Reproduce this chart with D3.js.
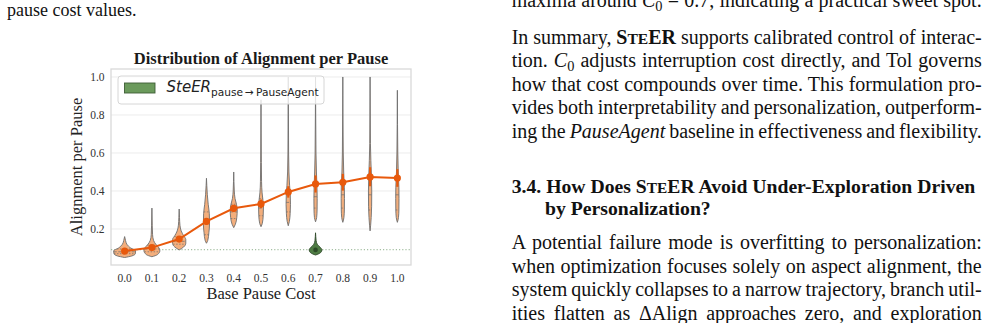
<!DOCTYPE html>
<html>
<head>
<meta charset="utf-8">
<script src="https://cdn.jsdelivr.net/npm/d3@7"></script>
<style>
  body { margin: 0; background: #fff; }
  svg { display: block; }
</style>
</head>
<body>
<div id="page"></div>
<script>
// ---- data ----
const costs = ['0.0', '0.1', '0.2', '0.3', '0.4', '0.5', '0.6', '0.7', '0.8', '0.9', '1.0'];
const meanAlign = [0.084, 0.102, 0.147, 0.240, 0.309, 0.332, 0.395, 0.437, 0.446, 0.474, 0.468];
const ciLow = [0.078, 0.095, 0.138, 0.222, 0.292, 0.310, 0.365, 0.392, 0.402, 0.425, 0.422];
const ciHigh = [0.090, 0.110, 0.157, 0.258, 0.327, 0.355, 0.425, 0.482, 0.490, 0.525, 0.515];
const q1 = [0.070, 0.080, 0.120, 0.170, 0.255, 0.270, 0.290, 0.310, 0.310, 0.300, 0.300];
const med = [0.080, 0.095, 0.135, 0.230, 0.290, 0.310, 0.340, 0.370, 0.380, 0.380, 0.380];
const q3 = [0.095, 0.115, 0.160, 0.290, 0.330, 0.360, 0.400, 0.440, 0.450, 0.470, 0.460];
// [alignment, relative density width]
const violinProfiles = [
  [[0.05, 0], [0.058, 0.65], [0.07, 0.97], [0.085, 1.0], [0.10, 0.55], [0.12, 0.2], [0.14, 0.08], [0.16, 0]],
  [[0.054, 0], [0.065, 0.5], [0.085, 0.72], [0.10, 0.65], [0.12, 0.35], [0.14, 0.15], [0.17, 0.06], [0.22, 0.03], [0.31, 0]],
  [[0.09, 0], [0.105, 0.4], [0.125, 0.6], [0.145, 0.6], [0.165, 0.4], [0.19, 0.18], [0.22, 0.07], [0.26, 0.03], [0.305, 0]],
  [[0.125, 0], [0.14, 0.12], [0.18, 0.22], [0.23, 0.28], [0.28, 0.26], [0.33, 0.16], [0.38, 0.08], [0.43, 0.03], [0.467, 0]],
  [[0.207, 0], [0.225, 0.15], [0.26, 0.28], [0.30, 0.32], [0.33, 0.25], [0.36, 0.12], [0.40, 0.05], [0.45, 0.02], [0.50, 0]],
  [[0.212, 0], [0.23, 0.12], [0.27, 0.2], [0.31, 0.22], [0.35, 0.18], [0.39, 0.1], [0.45, 0.05], [0.55, 0.03], [0.7, 0.015], [0.88, 0]],
  [[0.217, 0], [0.24, 0.1], [0.28, 0.17], [0.33, 0.2], [0.38, 0.18], [0.43, 0.12], [0.5, 0.06], [0.6, 0.03], [0.8, 0.015], [1.0, 0]],
  [[0.238, 0], [0.26, 0.1], [0.3, 0.14], [0.36, 0.15], [0.42, 0.13], [0.5, 0.08], [0.6, 0.04], [0.8, 0.015], [1.0, 0]],
  [[0.235, 0], [0.26, 0.1], [0.3, 0.14], [0.36, 0.15], [0.42, 0.14], [0.5, 0.08], [0.6, 0.04], [0.8, 0.015], [1.0, 0]],
  [[0.19, 0], [0.22, 0.05], [0.26, 0.1], [0.32, 0.14], [0.4, 0.15], [0.48, 0.12], [0.56, 0.07], [0.65, 0.03], [0.8, 0.015], [1.0, 0]],
  [[0.235, 0], [0.26, 0.1], [0.3, 0.14], [0.36, 0.15], [0.42, 0.14], [0.5, 0.08], [0.6, 0.04], [0.75, 0.015], [0.93, 0]]
];
const agentCost = '0.7';
const agentProfile = [[0.063, 0], [0.075, 0.45], [0.09, 0.58], [0.105, 0.4], [0.12, 0.15], [0.14, 0.05], [0.16, 0.02], [0.18, 0]];
const agentMean = 0.09;
const agentLevel = 0.091;
const yTicks = [0.2, 0.4, 0.6, 0.8, 1.0];

// ---- page ----
const W = 988, H = 323;
const svg = d3.select('#page').append('svg').attr('width', W).attr('height', H);
const serif = '"Liberation Serif", "Times New Roman", serif';

const frame = { left: 111, right: 411, top: 69, bottom: 265 };

let x = d3.scaleBand().domain(costs).range([frame.left, frame.right]).paddingInner(0).paddingOuter(0);
let y = d3.scaleLinear().domain([0.0105, 1.042]).range([frame.bottom, frame.top]);
let wScale = d3.scaleLinear().domain([0, 1]).range([0, 11]);
const cx = (c) => x(c) + x.bandwidth() / 2;

let g = svg.append('g');

// grid
g.selectAll('.grid')
  .data(yTicks)
  .enter()
  .append('line')
  .attr('x1', frame.left)
  .attr('x2', frame.right)
  .attr('y1', (d) => y(d))
  .attr('y2', (d) => y(d))
  .attr('stroke', '#ececec')
  .attr('stroke-width', 1);

// frame
g.append('rect')
  .attr('x', frame.left)
  .attr('y', frame.top)
  .attr('width', frame.right - frame.left)
  .attr('height', frame.bottom - frame.top)
  .attr('fill', 'none')
  .attr('stroke', '#d9d9d9')
  .attr('stroke-width', 1.3);

// dotted PauseAgent level
g.append('line')
  .attr('x1', frame.left)
  .attr('x2', frame.right)
  .attr('y1', y(agentLevel))
  .attr('y2', y(agentLevel))
  .attr('stroke', '#8fb08c')
  .attr('stroke-width', 1)
  .attr('stroke-dasharray', '1.2,2');

function violinArea(center) {
  return d3.area()
    .y((d) => y(d[0]))
    .x0((d) => center - wScale(d[1]))
    .x1((d) => center + wScale(d[1]))
    .curve(d3.curveMonotoneY);
}

function widthAt(profile, v) {
  for (let i = 1; i < profile.length; i++) {
    if (v <= profile[i][0]) {
      let a = profile[i - 1], b = profile[i];
      let t = (v - a[0]) / (b[0] - a[0]);
      return a[1] + t * (b[1] - a[1]);
    }
  }
  return 0;
}

// violins
costs.forEach((c, i) => {
  let prof = violinProfiles[i];
  g.append('path')
    .attr('d', violinArea(cx(c))(prof))
    .attr('fill', '#f3ae7c')
    .attr('stroke', '#6e6e6e')
    .attr('stroke-width', 0.9);

  [q1[i], med[i], q3[i]].forEach((q, k) => {
    let w = wScale(widthAt(prof, q));
    g.append('line')
      .attr('x1', cx(c) - w)
      .attr('x2', cx(c) + w)
      .attr('y1', y(q))
      .attr('y2', y(q))
      .attr('stroke', '#6e6e6e')
      .attr('stroke-width', 0.7)
      .attr('stroke-dasharray', k === 1 ? '3,1.5' : '1.5,1.5');
  });
});

// PauseAgent violin
g.append('path')
  .attr('d', violinArea(cx(agentCost))(agentProfile))
  .attr('fill', '#4f7c44')
  .attr('stroke', '#2f4a2a')
  .attr('stroke-width', 0.9);
g.append('circle')
  .attr('cx', cx(agentCost))
  .attr('cy', y(agentMean))
  .attr('r', 2.3)
  .attr('fill', '#2c4a27');

// mean line + error bars
const lineColor = '#e8590c';
g.selectAll('.err')
  .data(costs)
  .enter()
  .append('line')
  .attr('x1', (d) => cx(d))
  .attr('x2', (d) => cx(d))
  .attr('y1', (d, i) => y(ciLow[i]))
  .attr('y2', (d, i) => y(ciHigh[i]))
  .attr('stroke', lineColor)
  .attr('stroke-width', 2.2);

g.append('path')
  .datum(costs)
  .attr('d', d3.line().x((d) => cx(d)).y((d, i) => y(meanAlign[i])))
  .attr('fill', 'none')
  .attr('stroke', lineColor)
  .attr('stroke-width', 2);

g.selectAll('.pt')
  .data(costs)
  .enter()
  .append('circle')
  .attr('cx', (d) => cx(d))
  .attr('cy', (d, i) => y(meanAlign[i]))
  .attr('r', 3.6)
  .attr('fill', lineColor);

// axes labels
g.selectAll('.ytick')
  .data(yTicks)
  .enter()
  .append('text')
  .attr('x', 104.5)
  .attr('y', (d) => y(d))
  .attr('dy', '0.35em')
  .attr('text-anchor', 'end')
  .style('font-family', serif)
  .style('font-size', '11.5px')
  .attr('fill', '#333')
  .text((d) => d.toFixed(1));

g.selectAll('.xtick')
  .data(costs)
  .enter()
  .append('text')
  .attr('x', (d) => cx(d))
  .attr('y', 281.5)
  .attr('text-anchor', 'middle')
  .style('font-family', serif)
  .style('font-size', '11.5px')
  .attr('fill', '#333')
  .text((d) => d);

g.append('text')
  .attr('x', (frame.left + frame.right) / 2)
  .attr('y', 299)
  .attr('text-anchor', 'middle')
  .style('font-family', serif)
  .style('font-size', '16.5px')
  .attr('fill', '#222')
  .text('Base Pause Cost');

g.append('text')
  .attr('transform', 'translate(82,' + (frame.top + frame.bottom) / 2 + ') rotate(-90)')
  .attr('text-anchor', 'middle')
  .style('font-family', serif)
  .style('font-size', '16.5px')
  .attr('fill', '#222')
  .text('Alignment per Pause');

g.append('text')
  .attr('x', (frame.left + frame.right) / 2)
  .attr('y', 63.5)
  .attr('text-anchor', 'middle')
  .style('font-family', serif)
  .style('font-size', '16.5px')
  .style('font-weight', 'bold')
  .attr('fill', '#1a1a1a')
  .text('Distribution of Alignment per Pause');

// legend
let leg = g.append('g');
leg.append('rect')
  .attr('x', 118).attr('y', 76).attr('width', 206).attr('height', 28).attr('rx', 3)
  .attr('fill', 'white').attr('fill-opacity', 0.8)
  .attr('stroke', '#d6d6d6').attr('stroke-width', 1);
leg.append('rect')
  .attr('x', 124.5).attr('y', 83).attr('width', 30.5).attr('height', 10)
  .attr('fill', '#6b9a5c').attr('stroke', '#3e5d36').attr('stroke-width', 0.9);
let lt = leg.append('text')
  .attr('x', 166.5).attr('y', 92.3)
  .style('font-family', '"DejaVu Sans", sans-serif')
  .attr('fill', '#222');
lt.append('tspan').style('font-size', '15px').style('font-style', 'italic').text('SteER');
lt.append('tspan').attr('dy', 3.6).style('font-size', '10.6px').text('pause\u2009\u2192\u2009PauseAgent');

// ---- surrounding paper text ----
const colX = 511.7, colW = 470;
const bodySize = 20;

function seg(t, o) { return Object.assign({ t: t }, o || {}); }
const steer = (bold) => [seg('S', { b: bold }), seg('TE', { b: bold, sc: 1 }), seg('ER', { b: bold })];

const rightLines = [
  { y: 7, just: true, segs: [seg('maxima around '), seg('C', { i: 1 }), seg('0', { sub: 1 }), seg(' = 0.7, indicating a practical sweet spot.')] },
  { y: 43.8, just: true, segs: [seg('In summary, ')].concat(steer(1), [seg(' supports calibrated control of interac-')]) },
  { y: 67.3, just: true, segs: [seg('tion. '), seg('C', { i: 1 }), seg('0', { sub: 1 }), seg(' adjusts interruption cost directly, and Tol governs')] },
  { y: 90.8, just: true, segs: [seg('how that cost compounds over time. This formulation pro-')] },
  { y: 114.3, just: true, segs: [seg('vides both interpretability and personalization, outperform-')] },
  { y: 137.8, just: true, segs: [seg('ing the '), seg('PauseAgent', { i: 1 }), seg(' baseline in effectiveness and flexibility.')] },
  { y: 192.8, size: 19.7, segs: [seg('3.4. How Does ', { b: 1 })].concat(steer(1), [seg(' Avoid Under-Exploration Driven', { b: 1 })]) },
  { y: 214.8, x: 545, size: 19.7, segs: [seg('by Personalization?', { b: 1 })] },
  { y: 249.3, just: true, segs: [seg('A potential failure mode is overfitting to personalization:')] },
  { y: 272.8, just: true, segs: [seg('when optimization focuses solely on aspect alignment, the')] },
  { y: 296.3, just: true, segs: [seg('system quickly collapses to a narrow trajectory, branch util-')] },
  { y: 319.8, just: true, segs: [seg('ities flatten as \u0394Align approaches zero, and exploration')] }
];

function drawLine(l, x0, size) {
  let t = svg.append('text')
    .attr('x', l.x || x0)
    .attr('y', l.y)
    .style('font-family', serif)
    .style('font-size', size + 'px')
    .attr('fill', '#111');
  let shifted = false;
  l.segs.forEach((s) => {
    let sp = t.append('tspan').text(s.t);
    if (s.b) sp.style('font-weight', 'bold');
    if (s.i) sp.style('font-style', 'italic');
    if (s.sc) sp.style('font-size', (size * 0.78) + 'px');
    if (s.sub) { sp.attr('dy', 3.5).style('font-size', (size * 0.72) + 'px'); shifted = true; }
    else if (shifted) { sp.attr('dy', -3.5); shifted = false; }
  });
  if (l.just) {
    let natural = t.node().getComputedTextLength();
    let spaces = l.segs.map((s) => s.t).join('').split(' ').length - 1;
    if (spaces > 0) t.attr('word-spacing', (colW - natural) / spaces);
  }
}

// caption tail of the left column
drawLine({ x: 7, y: 15.5, segs: [seg('pause cost values.')] }, 7, 18);
rightLines.forEach((l) => drawLine(l, colX, l.size || bodySize));
</script>
</body>
</html>
